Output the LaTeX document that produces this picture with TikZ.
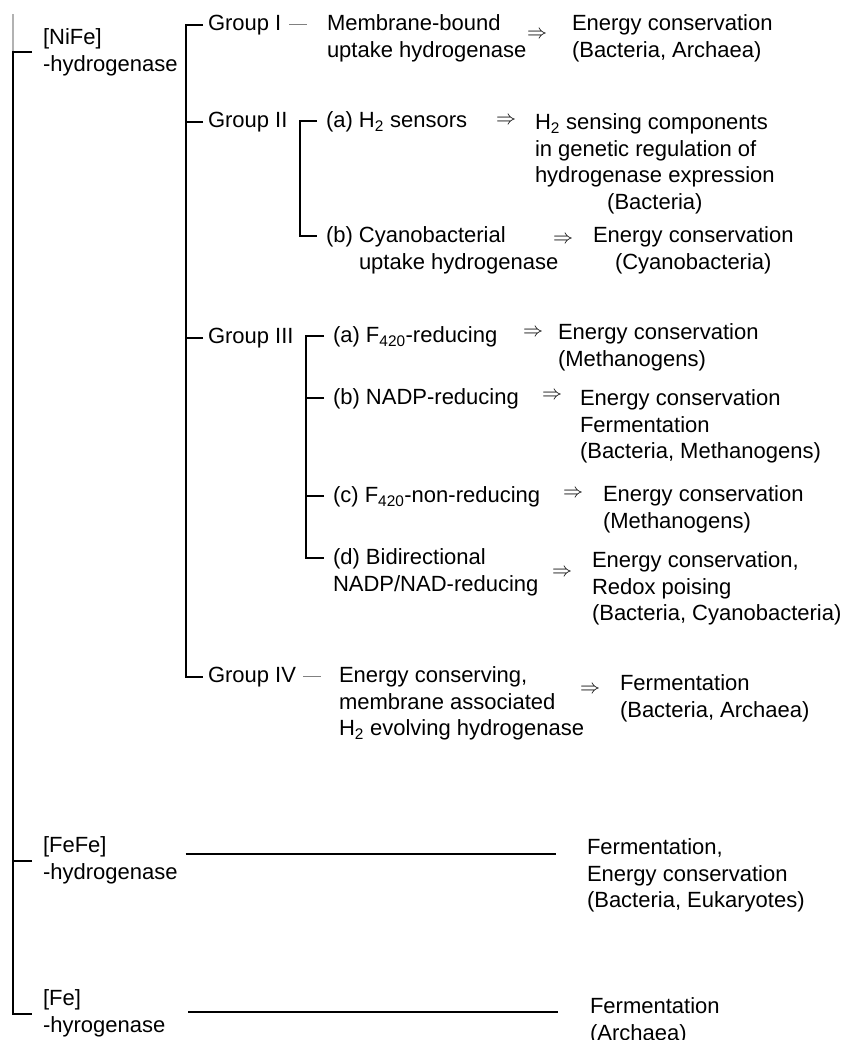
\documentclass[tikz,border=0pt]{standalone}
\usepackage{graphicx}
\usepackage{fontspec}
\setmainfont{Liberation Sans}
\begin{document}
\begin{tikzpicture}[x=1pt, y=-1pt,
	txt/.style={anchor=north west, inner sep=0pt, outer sep=0pt, align=left, font=\fontsize{22}{26.5}\selectfont},
	imp/.style={inner sep=0pt},
	tree/.style={line width=2pt},
	bar/.style={line width=1pt, gray}]
	\newcommand{\impl}{\scalebox{2}{$\Rightarrow$}}
	\useasboundingbox (0,0) rectangle (844,1040);
	\node[txt] (nife) at (43,29) {[NiFe]\\-hydrogenase};
	\node[txt] (fefe) at (43,837) {[FeFe]\\-hydrogenase};
	\node[txt] (fe) at (43,990) {[Fe]\\-hyrogenase};
	\node[txt] (gI) at (208,15) {Group I};
	\node[txt] (gII) at (208,112) {Group II};
	\node[txt] (gIII) at (208,328) {Group III};
	\node[txt] (gIV) at (208,667) {Group IV};
	\node[txt] (dI) at (327,15) {Membrane-bound\\uptake hydrogenase};
	\node[imp] (iI) at (537,35) {\impl};
	\node[txt] (oI) at (572,15) {Energy conservation\\(Bacteria, Archaea)};
	\node[txt] (dIIa) at (326,112) {(a) H\textsubscript{2} sensors};
	\node[imp] (iIIa) at (506,121) {\impl};
	\node[txt] (oIIa) at (535,111) {\begin{tabular}{@{}l@{}}H\textsubscript{2} sensing components\\in genetic regulation of\\hydrogenase expression\\\multicolumn{1}{@{}c@{}}{(Bacteria)}\end{tabular}};
	\node[txt] (dIIb) at (326,227) {(b) Cyanobacterial\\\phantom{(b) }uptake hydrogenase};
	\node[imp] (iIIb) at (563,240) {\impl};
	\node[txt, align=center] (oIIb) at (593,227) {Energy conservation\\(Cyanobacteria)};
	\node[txt] (dIIIa) at (333,327) {(a) F\textsubscript{420}-reducing};
	\node[imp] (iIIIa) at (533,333) {\impl};
	\node[txt] (oIIIa) at (558,324) {Energy conservation\\(Methanogens)};
	\node[txt] (dIIIb) at (333,389) {(b) NADP-reducing};
	\node[imp] (iIIIb) at (552,396) {\impl};
	\node[txt] (oIIIb) at (580,390) {Energy conservation\\Fermentation\\(Bacteria, Methanogens)};
	\node[txt] (dIIIc) at (333,487) {(c) F\textsubscript{420}-non-reducing};
	\node[imp] (iIIIc) at (573,494) {\impl};
	\node[txt] (oIIIc) at (603,486) {Energy conservation\\(Methanogens)};
	\node[txt] (dIIId) at (333,549) {(d) Bidirectional\\NADP/NAD-reducing};
	\node[imp] (iIIId) at (562,573) {\impl};
	\node[txt] (oIIId) at (592,552) {Energy conservation,\\Redox poising\\(Bacteria, Cyanobacteria)};
	\node[txt] (dIV) at (339,667) {Energy conserving,\\membrane associated\\H\textsubscript{2} evolving hydrogenase};
	\node[imp] (iIV) at (590,690) {\impl};
	\node[txt] (oIV) at (620,675) {Fermentation\\(Bacteria, Archaea)};
	\node[txt] (oFeFe) at (587,839) {Fermentation,\\Energy conservation\\(Bacteria, Eukaryotes)};
	\node[txt] (oFe) at (590,998) {Fermentation\\(Archaea)};
	\draw[gray!60, line width=1.2pt] ([xshift=-30pt]nife.west) -- ++(0,-38);
	\draw[tree] ([xshift=-11pt]nife.west) -- ++(-19,0) |- ([xshift=-11pt]fe.west);
	\draw[tree] ([xshift=-11pt]fefe.west) -- ++(-19,0);
	\draw[tree] ([xshift=-5pt]gI.west) -- ++(-17,0) |- ([xshift=-5pt]gIV.west);
	\draw[tree] ([xshift=-5pt]gII.west) -- ++(-17,0);
	\draw[tree] ([xshift=-5pt]gIII.west) -- ++(-17,0);
	\draw[tree] ([xshift=-9pt,yshift=-9pt]dIIa.north west) -- ++(-17,0) |- ([xshift=-9pt,yshift=-9pt]dIIb.north west);
	\draw[tree] ([xshift=-9pt,yshift=-9pt]dIIIa.north west) -- ++(-18,0) |- ([xshift=-9pt,yshift=-9pt]dIIId.north west);
	\draw[tree] ([xshift=-9pt,yshift=-9pt]dIIIb.north west) -- ++(-18,0);
	\draw[tree] ([xshift=-9pt,yshift=-9pt]dIIIc.north west) -- ++(-18,0);
	\draw[bar] ([xshift=8pt]gI.east) -- ++(18,0);
	\draw[bar] ([xshift=7pt]gIV.east) -- ++(18,0);
	\draw[tree] (fefe.east) ++(8,-7) -- ++(370,0);
	\draw[tree] (fe.east) ++(23,-2) -- ++(370,0);
\end{tikzpicture}
\end{document}
